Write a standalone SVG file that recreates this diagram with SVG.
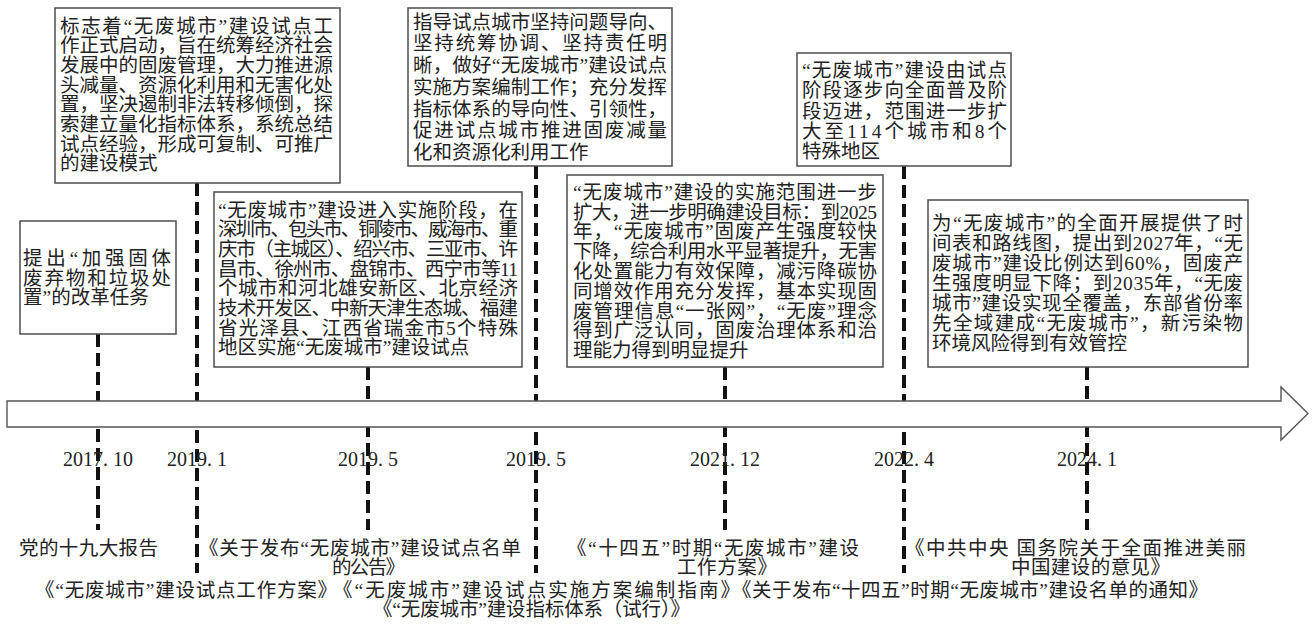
<svg xmlns="http://www.w3.org/2000/svg" width="1312" height="629" viewBox="0 0 1312 629">
<style>
.bg{fill:#fff}
.box{fill:#fff;stroke:#4d4d4d;stroke-width:1.5}
.t{font-family:"Liberation Serif","Noto Sans CJK SC",serif;font-size:19.5px;fill:#222}
.date{font-family:"Liberation Serif","Noto Sans CJK SC",serif;font-size:20px;fill:#222;text-anchor:middle}
.conn line{stroke:#111;stroke-width:4;stroke-dasharray:13 6;fill:none}
.axis{fill:#fff;stroke:#555;stroke-width:1.4}
</style>
<rect class="bg" x="0" y="0" width="1312" height="629"/>

<g id="connectors" class="conn">
<line x1="98" y1="334" x2="98" y2="530"/>
<line x1="197" y1="183" x2="197" y2="573"/>
<line x1="368" y1="367" x2="368" y2="530"/>
<line x1="536" y1="166" x2="536" y2="573"/>
<line x1="725" y1="367" x2="725" y2="530"/>
<line x1="904" y1="166" x2="904" y2="573"/>
<line x1="1087" y1="367" x2="1087" y2="530"/>
</g>

<g id="timeline-axis">
<polygon class="axis" points="7,401 1281,401 1281,387 1308,413.5 1281,440 1281,427 7,427"/>
</g>

<g id="dates">
<text class="date" x="98" y="466">2017. 10</text>
<text class="date" x="197" y="466">2019. 1</text>
<text class="date" x="368" y="466">2019. 5</text>
<text class="date" x="536" y="466">2019. 5</text>
<text class="date" x="725" y="466">2021. 12</text>
<text class="date" x="904" y="466">2022. 4</text>
<text class="date" x="1087" y="466">2024. 1</text>
</g>

<g id="node-2017-10">
<rect class="box" x="20" y="221" width="156" height="113"/>
<text class="t" x="23" y="265" textLength="148" lengthAdjust="spacing">提出“加强固体</text>
<text class="t" x="23" y="284.5" textLength="148" lengthAdjust="spacing">废弃物和垃圾处</text>
<text class="t" x="23" y="304">置”的改革任务</text>
</g>

<g id="node-2019-1">
<rect class="box" x="55" y="8" width="285" height="175"/>
<text class="t" x="60" y="32.5" textLength="273" lengthAdjust="spacing">标志着“无废城市”建设试点工</text>
<text class="t" x="60" y="52.2" textLength="273" lengthAdjust="spacing">作正式启动，旨在统筹经济社会</text>
<text class="t" x="60" y="71.9" textLength="273" lengthAdjust="spacing">发展中的固废管理，大力推进源</text>
<text class="t" x="60" y="91.6" textLength="273" lengthAdjust="spacing">头减量、资源化利用和无害化处</text>
<text class="t" x="60" y="111.3" textLength="273" lengthAdjust="spacing">置，坚决遏制非法转移倾倒，探</text>
<text class="t" x="60" y="131" textLength="273" lengthAdjust="spacing">索建立量化指标体系，系统总结</text>
<text class="t" x="60" y="150.7" textLength="273" lengthAdjust="spacing">试点经验，形成可复制、可推广</text>
<text class="t" x="60" y="170.4">的建设模式</text>
</g>

<g id="node-2019-5a">
<rect class="box" x="214" y="192" width="308" height="175"/>
<text class="t" x="218" y="216.5" textLength="300" lengthAdjust="spacing">“无废城市”建设进入实施阶段，在</text>
<text class="t" x="218" y="236.2" textLength="300" lengthAdjust="spacing">深圳市、包头市、铜陵市、威海市、重</text>
<text class="t" x="218" y="255.9" textLength="300" lengthAdjust="spacing">庆市（主城区）、绍兴市、三亚市、许</text>
<text class="t" x="218" y="275.6" textLength="300" lengthAdjust="spacing">昌市、徐州市、盘锦市、西宁市等11</text>
<text class="t" x="218" y="295.3" textLength="300" lengthAdjust="spacing">个城市和河北雄安新区、北京经济</text>
<text class="t" x="218" y="315" textLength="300" lengthAdjust="spacing">技术开发区、中新天津生态城、福建</text>
<text class="t" x="218" y="334.7" textLength="300" lengthAdjust="spacing">省光泽县、江西省瑞金市5个特殊</text>
<text class="t" x="218" y="354.4">地区实施“无废城市”建设试点</text>
</g>

<g id="node-2019-5b">
<rect class="box" x="408" y="8" width="264" height="158"/>
<text class="t" x="413" y="28.7" textLength="254" lengthAdjust="spacing">指导试点城市坚持问题导向、</text>
<text class="t" x="413" y="50.4" textLength="254" lengthAdjust="spacing">坚持统筹协调、坚持责任明</text>
<text class="t" x="413" y="72.1" textLength="254" lengthAdjust="spacing">晰，做好“无废城市”建设试点</text>
<text class="t" x="413" y="93.8" textLength="254" lengthAdjust="spacing">实施方案编制工作；充分发挥</text>
<text class="t" x="413" y="115.5" textLength="254" lengthAdjust="spacing">指标体系的导向性、引领性，</text>
<text class="t" x="413" y="137.2" textLength="254" lengthAdjust="spacing">促进试点城市推进固废减量</text>
<text class="t" x="413" y="158.9">化和资源化利用工作</text>
</g>

<g id="node-2021-12">
<rect class="box" x="567" y="175" width="316" height="192"/>
<text class="t" x="573" y="198.7" textLength="304" lengthAdjust="spacing">“无废城市”建设的实施范围进一步</text>
<text class="t" x="573" y="218.5" textLength="304" lengthAdjust="spacing">扩大，进一步明确建设目标：到2025</text>
<text class="t" x="573" y="238.3" textLength="304" lengthAdjust="spacing">年，“无废城市”固废产生强度较快</text>
<text class="t" x="573" y="258.1" textLength="304" lengthAdjust="spacing">下降，综合利用水平显著提升，无害</text>
<text class="t" x="573" y="277.9" textLength="304" lengthAdjust="spacing">化处置能力有效保障，减污降碳协</text>
<text class="t" x="573" y="297.7" textLength="304" lengthAdjust="spacing">同增效作用充分发挥，基本实现固</text>
<text class="t" x="573" y="317.5" textLength="304" lengthAdjust="spacing">废管理信息“一张网”，“无废”理念</text>
<text class="t" x="573" y="337.3" textLength="304" lengthAdjust="spacing">得到广泛认同，固废治理体系和治</text>
<text class="t" x="573" y="357.1">理能力得到明显提升</text>
</g>

<g id="node-2022-4">
<rect class="box" x="797" y="53" width="214" height="113"/>
<text class="t" x="802" y="77" textLength="205" lengthAdjust="spacing">“无废城市”建设由试点</text>
<text class="t" x="802" y="97.3" textLength="205" lengthAdjust="spacing">阶段逐步向全面普及阶</text>
<text class="t" x="802" y="117.6" textLength="205" lengthAdjust="spacing">段迈进，范围进一步扩</text>
<text class="t" x="802" y="137.9" textLength="205" lengthAdjust="spacing">大至114个城市和8个</text>
<text class="t" x="802" y="158.2">特殊地区</text>
</g>

<g id="node-2024-1">
<rect class="box" x="928" y="200" width="320" height="167"/>
<text class="t" x="932" y="230" textLength="311" lengthAdjust="spacing">为“无废城市”的全面开展提供了时</text>
<text class="t" x="932" y="250" textLength="311" lengthAdjust="spacing">间表和路线图，提出到2027年，“无</text>
<text class="t" x="932" y="270" textLength="311" lengthAdjust="spacing">废城市”建设比例达到60%，固废产</text>
<text class="t" x="932" y="290" textLength="311" lengthAdjust="spacing">生强度明显下降；到2035年，“无废</text>
<text class="t" x="932" y="310" textLength="311" lengthAdjust="spacing">城市”建设实现全覆盖，东部省份率</text>
<text class="t" x="932" y="330" textLength="311" lengthAdjust="spacing">先全域建成“无废城市”，新污染物</text>
<text class="t" x="932" y="350">环境风险得到有效管控</text>
</g>

<g id="doc-2017-10">
<text class="t" x="19" y="555" textLength="139" lengthAdjust="spacing">党的十九大报告</text>
</g>
<g id="doc-2019-1">
<text class="t" x="35" y="597" textLength="302" lengthAdjust="spacing">《“无废城市”建设试点工作方案》</text>
</g>
<g id="doc-2019-5a">
<text class="t" x="199" y="555" textLength="322" lengthAdjust="spacing">《关于发布“无废城市”建设试点名单</text>
<text class="t" x="332" y="574" textLength="73" lengthAdjust="spacing">的公告》</text>
</g>
<g id="doc-2019-5b">
<text class="t" x="333" y="597" textLength="407" lengthAdjust="spacing">《“无废城市”建设试点实施方案编制指南》</text>
<text class="t" x="373" y="616" textLength="317" lengthAdjust="spacing">《“无废城市”建设指标体系（试行）》</text>
</g>
<g id="doc-2021-12">
<text class="t" x="567" y="555" textLength="292" lengthAdjust="spacing">《“十四五”时期“无废城市”建设</text>
<text class="t" x="677" y="574" textLength="100" lengthAdjust="spacing">工作方案》</text>
</g>
<g id="doc-2022-4">
<text class="t" x="732" y="597" textLength="476" lengthAdjust="spacing">《关于发布“十四五”时期“无废城市”建设名单的通知》</text>
</g>
<g id="doc-2024-1">
<text class="t" x="905" y="555" textLength="341" lengthAdjust="spacing">《中共中央 国务院关于全面推进美丽</text>
<text class="t" x="1011" y="574" textLength="159" lengthAdjust="spacing">中国建设的意见》</text>
</g>
</svg>
